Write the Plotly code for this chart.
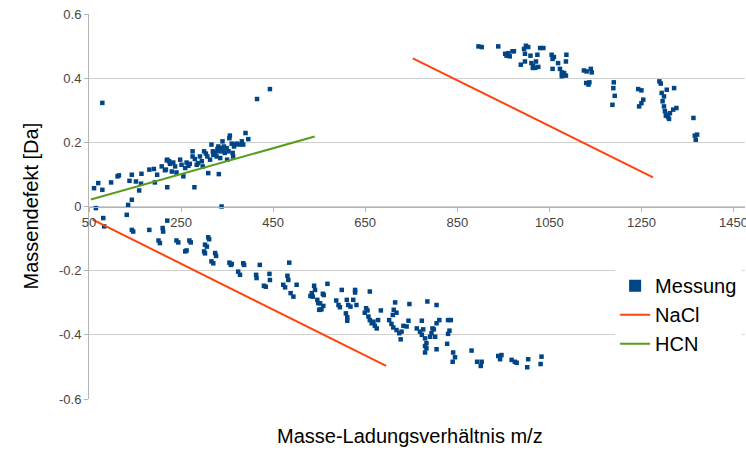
import plotly.graph_objects as go

messung_links_oben = [
    (79, 0.323), (443, 0.366), (415, 0.335), (61, 0.057), (70, 0.073), (79, 0.052), (65, -0.005),
    (98, 0.075), (112, 0.094), (115, 0.097), (138, 0.080), (143, 0.099), (152, 0.078), (163, 0.071),
    (159, 0.050), (164, 0.102), (143, 0.021), (135, 0.005), (132, -0.026), (181, 0.115), (191, 0.117),
    (193, 0.075), (198, 0.099), (208, 0.125), (215, 0.113), (219, 0.144), (224, 0.141), (220, 0.060),
    (233, 0.137), (237, 0.125), (240, 0.106), (248, 0.146), (251, 0.130), (255, 0.094), (259, 0.120),
    (262, 0.137), (266, 0.127), (269, 0.133), (275, 0.172), (275, 0.156), (280, 0.148), (284, 0.130),
    (287, 0.135), (279, 0.060), (291, 0.156), (295, 0.141), (297, 0.125), (300, 0.172), (304, 0.165),
    (307, 0.156), (309, 0.104), (313, 0.146), (316, 0.193), (319, 0.172), (320, 0.161), (324, 0.167),
    (327, 0.156), (329, 0.179), (331, 0.187), (333, 0.172), (335, 0.151), (332, 0.101), (338, 0.182),
    (340, 0.203), (342, 0.172), (343, 0.187), (345, 0.167), (349, 0.182), (350, 0.146), (353, 0.172),
    (355, 0.213), (356, 0.221), (360, 0.196), (362, 0.167), (363, 0.156), (365, 0.187), (367, 0.193),
    (371, 0.196), (377, 0.193), (382, 0.203), (385, 0.193), (390, 0.229), (396, 0.210), (338, 0.000),
    (220, 0.146), (226, 0.133), (217, 0.115), (230, 0.109),
]

messung_unten = [
    (81, -0.036), (83, -0.062), (143, -0.073), (146, -0.078), (181, -0.073), (210, -0.067), (211, -0.078),
    (220, -0.044), (201, -0.106), (204, -0.114), (240, -0.106), (244, -0.112), (268, -0.106), (271, -0.112),
    (259, -0.140), (262, -0.137), (309, -0.096), (311, -0.102), (302, -0.119), (306, -0.125), (300, -0.140),
    (302, -0.146), (324, -0.145), (326, -0.154), (316, -0.171), (320, -0.177), (355, -0.175), (360, -0.179),
    (358, -0.182), (385, -0.177), (387, -0.182), (374, -0.203), (378, -0.213), (421, -0.182), (413, -0.213),
    (414, -0.223), (442, -0.210), (443, -0.229), (430, -0.247), (434, -0.250), (485, -0.175), (481, -0.216),
    (483, -0.229), (472, -0.244), (476, -0.252), (501, -0.244), (488, -0.270), (494, -0.281), (534, -0.270),
    (536, -0.281), (541, -0.260), (546, -0.291), (548, -0.301), (552, -0.322),
    (539, -0.247), (568, -0.241), (531, -0.279), (558, -0.272), (560, -0.276), (552, -0.302), (550, -0.322),
    (555, -0.320), (559, -0.310), (599, -0.260), (628, -0.260), (660, -0.265), (587, -0.293), (592, -0.307),
    (595, -0.314), (610, -0.291), (613, -0.307), (618, -0.312), (608, -0.333), (611, -0.345), (611, -0.356),
    (628, -0.268), (624, -0.291), (631, -0.307), (652, -0.317), (649, -0.331), (655, -0.324), (657, -0.343),
    (660, -0.354), (664, -0.364), (671, -0.372), (675, -0.380), (668, -0.359), (684, -0.324), (678, -0.354),
    (715, -0.299), (746, -0.304), (785, -0.296), (805, -0.307), (712, -0.322), (718, -0.331), (710, -0.338),
    (702, -0.354), (707, -0.366), (711, -0.377), (718, -0.385), (724, -0.395), (727, -0.414), (733, -0.372),
    (740, -0.374), (744, -0.356), (729, -0.390), (773, -0.356), (762, -0.380), (769, -0.390), (773, -0.400),
    (776, -0.383), (780, -0.411), (783, -0.426), (780, -0.435), (783, -0.442), (780, -0.455), (791, -0.406),
    (794, -0.395), (796, -0.380), (799, -0.383), (805, -0.364), (811, -0.354), (805, -0.445), (802, -0.406),
    (830, -0.354), (836, -0.354), (833, -0.387), (830, -0.397), (828, -0.428), (841, -0.455), (845, -0.470),
    (840, -0.484), (881, -0.449), (893, -0.484), (903, -0.484), (901, -0.497), (939, -0.466), (946, -0.463),
    (943, -0.476), (968, -0.478), (975, -0.484), (979, -0.487), (1004, -0.476), (1002, -0.501), (1033, -0.468),
    (1031, -0.491),
]

messung_rechts_oben = [
    (896, 0.499), (903, 0.497), (939, 0.499), (954, 0.476), (957, 0.470), (961, 0.478), (964, 0.468),
    (970, 0.484), (973, 0.484), (995, 0.491), (999, 0.501), (1004, 0.497), (1030, 0.494), (1037, 0.494),
    (997, 0.476), (1009, 0.470), (1024, 0.473), (1087, 0.473), (1055, 0.473), (1060, 0.466), (1057, 0.460),
    (988, 0.442), (997, 0.452), (1011, 0.447), (1015, 0.439), (1021, 0.452), (1026, 0.435), (1019, 0.432),
    (1014, 0.432), (1069, 0.447), (1086, 0.452), (1057, 0.429), (1073, 0.429), (1077, 0.418), (1082, 0.416),
    (1086, 0.408), (1077, 0.406), (1125, 0.424), (1131, 0.421), (1140, 0.429), (1142, 0.418), (1130, 0.385),
    (1135, 0.380), (1137, 0.387), (1190, 0.387), (1189, 0.369), (1192, 0.345), (1187, 0.317), (1243, 0.366),
    (1250, 0.362), (1254, 0.333), (1250, 0.322), (1245, 0.312), (1289, 0.390), (1292, 0.383), (1294, 0.354),
    (1299, 0.343), (1296, 0.328), (1299, 0.312), (1305, 0.364), (1321, 0.369), (1301, 0.297), (1305, 0.286),
    (1308, 0.279), (1312, 0.291), (1319, 0.302), (1326, 0.307), (1310, 0.273), (1303, 0.283), (1363, 0.276),
    (1366, 0.221), (1371, 0.224), (1368, 0.208),
]

# Theoretische Linien
nacl_mz = [57.96, 695.50, None, 753.46, 1275.09]
nacl_defekt = [-0.041, -0.497, None, 0.462, 0.091]
hcn_mz = [54.02, 540.22]
hcn_defekt = [0.022, 0.218]

x_ticks = [50, 250, 450, 650, 850, 1050, 1250, 1450]
y_ticks = [-0.6, -0.4, -0.2, 0, 0.2, 0.4, 0.6]
y_ticktext = ["-0.6", "-0.4", "-0.2", "0", "0.2", "0.4", "0.6"]

alle = messung_links_oben + messung_unten + messung_rechts_oben
mz = [p[0] for p in alle]
defekt = [p[1] for p in alle]

fig = go.Figure()
# Legendeneintrag mit größerem Quadrat
fig.add_trace(go.Scatter(
    x=[None], y=[None], mode='markers', name='Messung',
    marker=dict(symbol='square', size=12, color='#004586', line=dict(width=0))
))
fig.add_trace(go.Scatter(
    x=mz, y=defekt, mode='markers', name='Messung', showlegend=False,
    marker=dict(symbol='square', size=4.5, color='#004586', line=dict(width=0))
))
fig.add_trace(go.Scatter(
    x=nacl_mz, y=nacl_defekt, mode='lines', name='NaCl',
    line=dict(color='#ff420e', width=2)
))
fig.add_trace(go.Scatter(
    x=hcn_mz, y=hcn_defekt, mode='lines', name='HCN',
    line=dict(color='#579d1c', width=2)
))

fig.update_layout(
    width=746, height=450,
    margin=dict(l=89, r=1, t=14, b=51, autoexpand=False),
    paper_bgcolor='white', plot_bgcolor='white',
    font=dict(family='Liberation Sans, Arial, sans-serif', color='#000000'),
    showlegend=True,
    legend=dict(
        x=0.802, y=0.345, xanchor='left', yanchor='top',
        bgcolor='white', borderwidth=0,
        font=dict(size=20, color='#000000'),
    ),
    xaxis=dict(
        range=[50, 1475], tickvals=x_ticks, ticktext=[str(v) for v in x_ticks],
        anchor='free', position=0.5,
        showgrid=False, zeroline=False,
        showline=True, linecolor='#b3b3b3', linewidth=1,
        ticks='outside', ticklen=4, tickcolor='#b3b3b3',
        tickfont=dict(size=13, color='#444444'),
        ticklabeloverflow='allow',
    ),
    yaxis=dict(
        range=[-0.6, 0.6], tickvals=y_ticks, ticktext=y_ticktext,
        showgrid=True, gridcolor='#d0d0d0', gridwidth=1, zeroline=False,
        showline=True, linecolor='#b3b3b3', linewidth=1,
        ticks='outside', ticklen=4, tickcolor='#b3b3b3',
        tickfont=dict(size=13, color='#444444'),
        ticklabeloverflow='allow',
    ),
    annotations=[
        dict(text='Masse-Ladungsverhältnis m/z', xref='paper', yref='paper',
             x=0.489, y=0, yshift=-37, xanchor='center', yanchor='middle',
             showarrow=False, font=dict(size=20, color='#000000')),
        dict(text='Massendefekt [Da]', xref='paper', yref='paper',
             x=0, y=0.5, xshift=-59, xanchor='center', yanchor='middle',
             textangle=-90, showarrow=False, font=dict(size=20, color='#000000')),
    ],
)

# Body-Rand der Seite entfernen, damit die Grafik genau ins Fenster passt
fig.write_html("out.html", config={'displayModeBar': False},
               post_script="document.body.style.margin='0';")
